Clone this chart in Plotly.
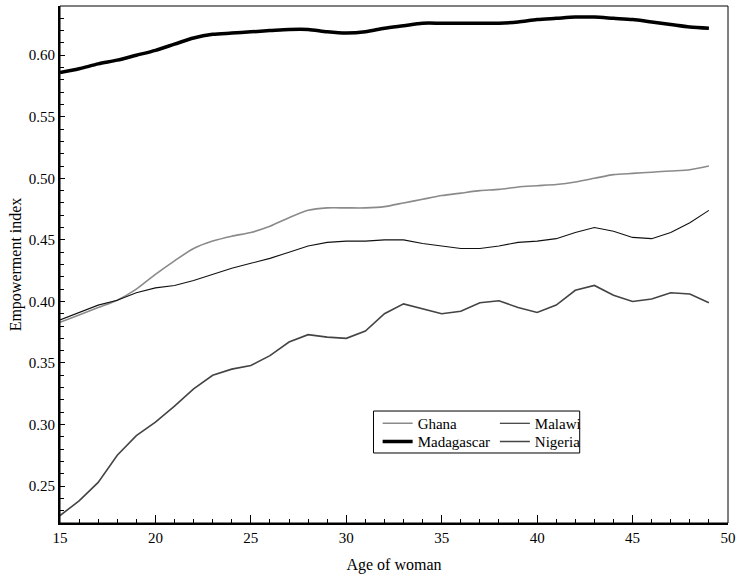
import plotly.graph_objects as go

ages = list(range(15, 50))

ghana = [0.383, 0.389, 0.395, 0.401, 0.410, 0.422, 0.433, 0.443, 0.449, 0.453,
         0.456, 0.461, 0.468, 0.474, 0.476, 0.476, 0.476, 0.477, 0.480, 0.483,
         0.486, 0.488, 0.490, 0.491, 0.493, 0.494, 0.495, 0.497, 0.500, 0.503,
         0.504, 0.505, 0.506, 0.507, 0.510]

malawi = [0.385, 0.391, 0.397, 0.401, 0.407, 0.411, 0.413, 0.417, 0.422, 0.427,
          0.431, 0.435, 0.440, 0.445, 0.448, 0.449, 0.449, 0.450, 0.450, 0.447,
          0.445, 0.443, 0.443, 0.445, 0.448, 0.449, 0.451, 0.456, 0.460, 0.457,
          0.452, 0.451, 0.456, 0.464, 0.474]

madagascar = [0.586, 0.589, 0.593, 0.596, 0.600, 0.604, 0.609, 0.614, 0.617, 0.618,
              0.619, 0.620, 0.621, 0.621, 0.619, 0.618, 0.619, 0.622, 0.624, 0.626,
              0.626, 0.626, 0.626, 0.626, 0.627, 0.629, 0.630, 0.631, 0.631, 0.630,
              0.629, 0.627, 0.625, 0.623, 0.622]

nigeria = [0.226, 0.238, 0.253, 0.275, 0.291, 0.302, 0.315, 0.329, 0.340, 0.345,
           0.348, 0.356, 0.367, 0.373, 0.371, 0.370, 0.376, 0.390, 0.398, 0.394,
           0.390, 0.392, 0.399, 0.4005, 0.395, 0.391, 0.397, 0.409, 0.413, 0.405,
           0.400, 0.402, 0.407, 0.406, 0.399]

FONT = "Liberation Serif"

fig = go.Figure()
fig.add_trace(go.Scatter(x=ages, y=ghana, name="Ghana", mode="lines",
                         line=dict(color="#8a8a8a", width=1.6, shape="spline", smoothing=0.6),
                         legend="legend"))
fig.add_trace(go.Scatter(x=ages, y=madagascar, name="Madagascar", mode="lines",
                         line=dict(color="#000000", width=3.5, shape="spline", smoothing=0.8),
                         legend="legend3"))
fig.add_trace(go.Scatter(x=ages, y=malawi, name="Malawi", mode="lines",
                         line=dict(color="#111111", width=1.1),
                         legend="legend2"))
fig.add_trace(go.Scatter(x=ages, y=nigeria, name="Nigeria", mode="lines",
                         line=dict(color="#444444", width=1.6),
                         legend="legend4"))

legend_common = dict(bgcolor="rgba(0,0,0,0)", borderwidth=0,
                     font=dict(family=FONT, size=15, color="#000"),
                     tracegroupgap=0, itemwidth=30,
                     xanchor="left", yanchor="top", orientation="v")

col1_x, col2_x = 0.4755, 0.651
row1_y, row2_y = 0.2245, 0.1892

fig.update_layout(
    width=741, height=577,
    margin=dict(l=59.5, r=5, t=6, b=54),
    paper_bgcolor="white", plot_bgcolor="white",
    font=dict(family=FONT, size=15, color="#000"),
    showlegend=True,
    legend=dict(x=col1_x, y=row1_y, **legend_common),
    legend2=dict(x=col2_x, y=row1_y, **legend_common),
    legend3=dict(x=col1_x, y=row2_y, **legend_common),
    legend4=dict(x=col2_x, y=row2_y, **legend_common),
    shapes=[
        dict(type="rect", xref="paper", yref="paper", x0=0, x1=1, y0=0, y1=1,
             line=dict(color="#000", width=1)),
        dict(type="rect", xref="paper", yref="paper", x0=0.4693, x1=0.778,
             y0=0.1354, y1=0.2166, line=dict(color="#000", width=1)),
    ],
)

fig.update_xaxes(
    range=[15, 50], dtick=5, tick0=15,
    showgrid=False, zeroline=False,
    showline=True, linecolor="#000", linewidth=2, mirror=False,
    ticks="inside", ticklen=8, tickwidth=1, tickcolor="#000",
    tickfont=dict(family=FONT, size=15), ticklabeloverflow="allow",
    minor=dict(dtick=1, ticks="inside", ticklen=4, tickwidth=1, tickcolor="#000", showgrid=False),
    title=dict(text="Age of woman", font=dict(family=FONT, size=16), standoff=14),
)
fig.update_yaxes(
    range=[0.22, 0.64], dtick=0.05, tick0=0.25, tickformat=".2f",
    showgrid=False, zeroline=False,
    showline=True, linecolor="#000", linewidth=2, mirror=False,
    ticks="inside", ticklen=5, tickwidth=1, tickcolor="#000",
    tickfont=dict(family=FONT, size=15),
    minor=dict(dtick=0.01, ticks="inside", ticklen=4, tickwidth=1, tickcolor="#000", showgrid=False),
    title=dict(text="Empowerment index", font=dict(family=FONT, size=16), standoff=3),
)

fig.write_html("out.html", config={"displayModeBar": False},
               post_script="document.body.style.margin='0';document.body.style.padding='0';")
